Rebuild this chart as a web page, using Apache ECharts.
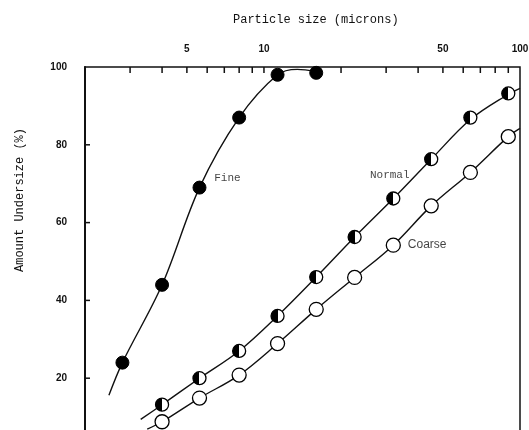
<!DOCTYPE html>
<html>
<head>
<meta charset="utf-8">
<script src="https://cdn.jsdelivr.net/npm/echarts@6/dist/echarts.min.js"></script>
<style>
  html, body { margin: 0; padding: 0; background: #fff; }
  #main { width: 529px; height: 430px; }
</style>
</head>
<body>
<div id="main"></div>
<script>
// measured points: particle size (microns) / amount undersize (%)
const fineSizes = [2.8, 4, 5.6, 8, 11.3, 16]
const fineVals = [24, 44, 69, 87, 98, 98.5]
const normalSizes = [4, 5.6, 8, 11.3, 16, 22.6, 32, 45, 64, 90]
const normalVals = [13.2, 20, 27, 36, 46, 56.3, 66.2, 76.3, 87, 93.2]
const coarseSizes = [4, 5.6, 8, 11.3, 16, 22.6, 32, 45, 64, 90]
const coarseVals = [8.8, 14.9, 20.8, 28.9, 37.7, 45.9, 54.2, 64.3, 72.9, 82.1]

// hand drawn fitted curves
const fineCurveX = [2.48, 2.8, 4, 5.6, 8, 11.3, 13.5, 16]
const fineCurveY = [15.6, 24, 44, 69, 87, 98, 99.4, 98.8]
const normalCurveX = [3.3, 4, 5.6, 8, 11.3, 16, 22.6, 32, 45, 64, 90, 100]
const normalCurveY = [9.4, 13.2, 20, 27, 36, 46, 56.3, 66.2, 76.3, 86.5, 93, 94.5]
const coarseCurveX = [3.5, 4, 5.6, 8, 11.3, 16, 22.6, 32, 45, 64, 90, 100]
const coarseCurveY = [6.9, 8.8, 14.9, 20.8, 28.9, 37.7, 45.9, 54.2, 64.3, 72.9, 82.1, 84.2]

// log axis from 2 to 100 microns
const xMin = 2
const xMax = 100
const tickSizes = [3, 4, 5, 6, 7, 8, 9, 10, 20, 30, 40, 50, 60, 70, 80, 90]
const labelSizes = [5, 10, 50, 100]
const yTicks = [20, 40, 60, 80]

const seriesNames = ['Fine', 'Normal', 'Coarse']
const labelPos = [[7.2, 71.5], [31, 72.1], [43.4, 54.2]]

// x is plotted as log10(size) on a value axis so the minor ticks 2..9 can be placed
const lg = v => Math.log10(v)
function zip(xs, ys) {
  return xs.map((x, i) => [lg(x), ys[i]])
}

const mono = '"Liberation Mono", "DejaVu Sans Mono", monospace'
const sans = '"Liberation Sans", Arial, sans-serif'

let chart = echarts.init(document.getElementById('main'), null, { renderer: 'canvas' })

const halfFill = new echarts.graphic.LinearGradient(0, 0, 1, 0, [
  { offset: 0, color: '#000' },
  { offset: 0.5, color: '#000' },
  { offset: 0.5, color: '#fff' },
  { offset: 1, color: '#fff' }
])

const curveStyle = { color: '#111', width: 1.4 }

// short inward tick; dx/dy gives direction
function tickSeries(data, dx, dy) {
  return {
    type: 'custom', silent: true, z: 5,
    data: data,
    renderItem: (params, api) => {
      const p = api.coord([api.value(0), api.value(1)])
      return {
        type: 'line',
        shape: { x1: p[0], y1: p[1], x2: p[0] + dx, y2: p[1] + dy },
        style: { stroke: '#111', lineWidth: 1.5 }
      }
    }
  }
}

let option = {
  animation: false,
  backgroundColor: '#fff',
  title: {
    text: 'Particle size (microns)',
    left: 228,
    top: 9,
    textStyle: { fontFamily: mono, fontSize: 12, fontWeight: 'normal', color: '#111' }
  },
  grid: {
    left: 85, top: 67, width: 435, height: 389,
    outerBoundsMode: 'none', containLabel: false,
    show: true, borderColor: '#111', borderWidth: 1.5
  },
  xAxis: {
    type: 'value',
    position: 'top',
    min: lg(xMin),
    max: lg(xMax),
    splitLine: { show: false },
    axisLine: { lineStyle: { color: '#111', width: 2 } },
    axisTick: { show: false },
    axisLabel: {
      customValues: labelSizes.map(lg),
      formatter: v => String(Math.round(Math.pow(10, v))),
      margin: 13,
      color: '#111',
      fontFamily: sans,
      fontWeight: 'bold',
      fontSize: 10
    }
  },
  yAxis: {
    type: 'value',
    min: 0,
    max: 100,
    interval: 20,
    splitLine: { show: false },
    axisLine: { show: true, lineStyle: { color: '#111', width: 2 } },
    axisTick: { show: false },
    axisLabel: {
      margin: 18,
      color: '#111',
      fontFamily: sans,
      fontWeight: 'bold',
      fontSize: 10,
      formatter: v => (v === 0 ? '' : v)
    }
  },
  graphic: [{
    type: 'text',
    left: 14,
    top: 128,
    rotation: Math.PI / 2,
    style: { text: 'Amount Undersize (%)', fontFamily: mono, fontSize: 12, fill: '#111' }
  }],
  series: [
    tickSeries(tickSizes.map(t => [lg(t), 100]), 0, 6),
    tickSeries(yTicks.map(v => [lg(xMin), v]), 5, 0),
    { type: 'line', data: zip(fineCurveX, fineCurveY), smooth: 0.35, showSymbol: false, lineStyle: curveStyle, z: 1 },
    { type: 'line', data: zip(normalCurveX, normalCurveY), smooth: 0.35, showSymbol: false, lineStyle: curveStyle, z: 1 },
    { type: 'line', data: zip(coarseCurveX, coarseCurveY), smooth: 0.35, showSymbol: false, lineStyle: curveStyle, z: 1 },
    {
      name: 'Fine', type: 'scatter', data: zip(fineSizes, fineVals), symbolSize: 13, z: 3,
      itemStyle: { color: '#000', borderColor: '#000', borderWidth: 1, opacity: 1 }
    },
    {
      name: 'Normal', type: 'scatter', data: zip(normalSizes, normalVals), symbolSize: 13, z: 3,
      itemStyle: { color: halfFill, borderColor: '#000', borderWidth: 1.3, opacity: 1 }
    },
    {
      name: 'Coarse', type: 'scatter', data: zip(coarseSizes, coarseVals), symbolSize: 14, z: 3,
      itemStyle: { color: '#fff', borderColor: '#000', borderWidth: 1.3, opacity: 1 }
    },
    {
      type: 'scatter', symbolSize: 0, z: 4, silent: true,
      data: labelPos.map((p, i) => ({
        value: [lg(p[0]), p[1]],
        name: seriesNames[i],
        label: i === 2 ? { fontFamily: sans, fontSize: 12 } : {}
      })),
      label: {
        show: true,
        position: 'inside',
        formatter: p => p.name,
        color: '#111',
        fontSize: 11,
        fontFamily: mono
      }
    }
  ]
}

chart.setOption(option)
</script>
</body>
</html>
